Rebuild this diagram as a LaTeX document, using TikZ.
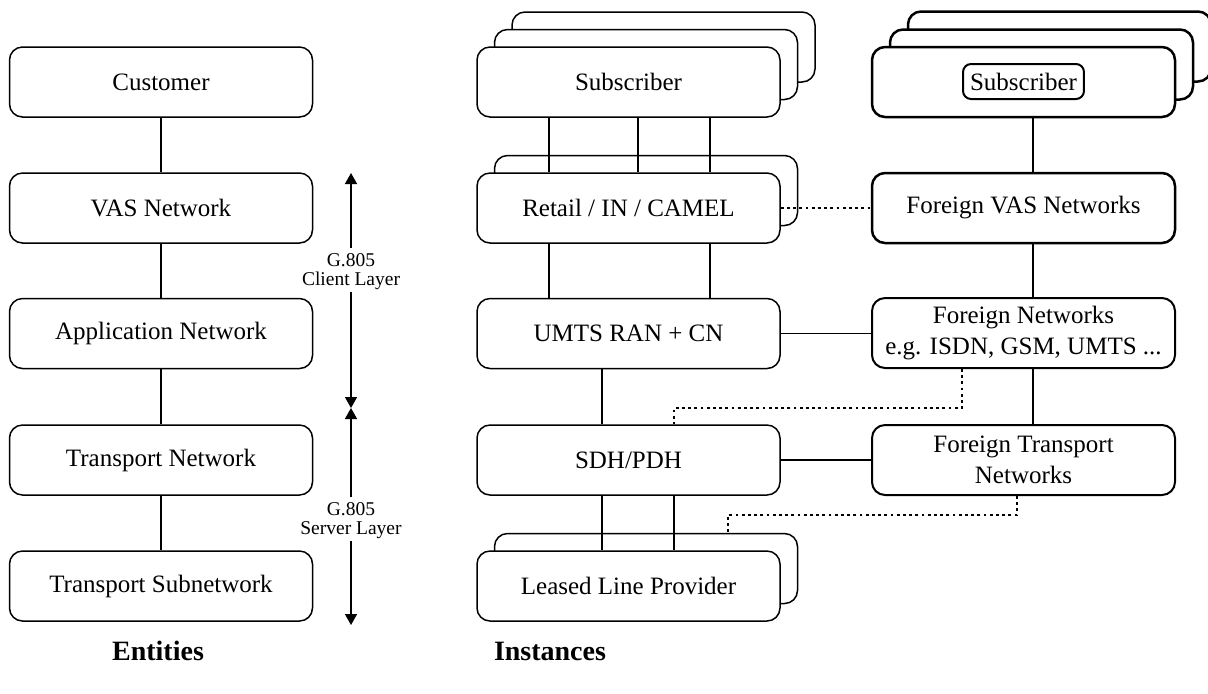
\documentclass[tikz,border=0pt]{standalone}
\usepackage{fontspec}
\setmainfont{Liberation Serif}
\usetikzlibrary{arrows.meta}
\begin{document}
\begin{tikzpicture}[x=0.5pt,y=-0.5pt,
  box/.style={draw, rounded corners=6.5pt, minimum width=151.5pt, minimum height=35pt,
    inner sep=0pt, align=center, fill=white, line width=0.75pt,
    font=\fontsize{12.5pt}{15.5pt}\selectfont},
  thickbox/.style={box, line width=1.25pt},
  medbox/.style={box, line width=1pt},
  conn/.style={line width=0.75pt},
  thickconn/.style={line width=1.1pt},
  dotconn/.style={line width=1.1pt, dash pattern=on 1.4pt off 1.7pt},
  layerarrow/.style={line width=0.75pt, -{Triangle[width=6pt,length=5.5pt]}},
  layerlabel/.style={align=center, inner sep=0pt, font=\fontsize{9.75pt}{9.5pt}\selectfont},
  caption/.style={inner sep=0pt, font=\fontsize{14pt}{16pt}\selectfont\bfseries}
]
\useasboundingbox (0,0) rectangle (1208,693);
\fill[white] (0,0) rectangle (1208,693);

% ---------- Entities column ----------
\node[box] (cust) at (161,82) {Customer};
\node[box] (vas) at (161,208) {VAS Network};
\node[box] (app) at (161,333.5) {Application Network};
\node[box] (tn) at (161,460) {Transport Network};
\node[box] (tsn) at (161,586) {Transport Subnetwork};
\draw[conn] (cust) -- (vas);
\draw[conn] (vas) -- (app);
\draw[conn] (app) -- (tn);
\draw[conn] (tn) -- (tsn);

% ---------- layer arrows ----------
\node[layerlabel] (client) at (351,272) {G.805\\Client Layer};
\node[layerlabel] (server) at (351,521) {G.805\\Server Layer};
\coordinate (ctop) at (351,173);
\coordinate (cend) at (351,248);
\coordinate (cres) at (351,292);
\coordinate (mid) at (351,408);
\coordinate (send) at (351,497);
\coordinate (sres) at (351,541);
\coordinate (sbot) at (351,625);
\draw[layerarrow] (cend) -- (ctop);
\draw[layerarrow] (cres) -- (mid);
\draw[layerarrow] (send) -- (mid);
\draw[layerarrow] (sres) -- (sbot);

% ---------- Instances: middle column ----------
\node[box] (sub3) at (663.5,47) {};
\node[box] (sub2) at (646,64.5) {};
\node[box] (sub) at (628.5,82) {Subscriber};
\node[box] (ret2) at (646,190.5) {};
\node[box] (ret) at (628.5,208) {Retail / IN / CAMEL};
\node[box] (umts) at (628.5,333.5) {UMTS RAN + CN};
\node[box] (sdh) at (628.5,460) {SDH/PDH};
\node[box] (llp2) at (646,568.5) {};
\node[box] (llp) at (628.5,586) {Leased Line Provider};

\draw[conn] (sub.south -| 549,0) -- (ret.north -| 549,0);
\draw[conn] (sub.south -| 638,0) -- (ret.north -| 638,0);
\draw[conn] (sub.south -| 710,0) -- (ret.north -| 710,0);
\draw[conn] (ret.south -| 549,0) -- (umts.north -| 549,0);
\draw[conn] (ret.south -| 710,0) -- (umts.north -| 710,0);
\draw[conn] (umts.south -| 602,0) -- (sdh.north -| 602,0);
\draw[conn] (sdh.south -| 602,0) -- (llp.north -| 602,0);
\draw[conn] (sdh.south -| 674,0) -- (llp.north -| 674,0);

% ---------- Instances: right column ----------
\node[thickbox] (rsub3) at (1059.5,46.5) {};
\node[thickbox] (rsub2) at (1041.5,64.5) {};
\node[thickbox] (rsub) at (1023.5,82) {};
\node[draw, rounded corners=4pt, line width=1pt, inner xsep=3.5pt, minimum height=17.5pt,
  font=\fontsize{12.5pt}{15.5pt}\selectfont] (rsubin) at (1023.5,81.5) {Subscriber};
\node[thickbox] (fvas) at (1023.5,208) {Foreign VAS Networks};
\node[medbox] (fnet) at (1023.5,333) {Foreign Networks\\e.g. ISDN, GSM, UMTS ...};
\node[medbox] (ftn) at (1023.5,460) {Foreign Transport\\Networks};

\draw[thickconn] (rsub.south -| 1033,0) -- (fvas.north -| 1033,0);
\draw[thickconn] (fvas.south -| 1033,0) -- (fnet.north -| 1033,0);
\draw[conn] (fnet.south -| 1033,0) -- (ftn.north -| 1033,0);
\draw[conn] (umts.east) -- (fnet.west |- umts.east);
\draw[conn] (sdh.east) -- (ftn.west |- sdh.east);

% dotted links
\draw[dotconn] (ret.east) -- (fvas.west |- ret.east);
\draw[dotconn] (fnet.south -| 962,0) |- (674,408) -- (sdh.north -| 674,0);
\draw[dotconn] (ftn.south -| 1017,0) |- (728,515) -- (llp2.north -| 728,0);

% ---------- captions ----------
\node[caption] (ent) at (158,651) {Entities};
\node[caption] (inst) at (550,651) {Instances};
\end{tikzpicture}
\end{document}
